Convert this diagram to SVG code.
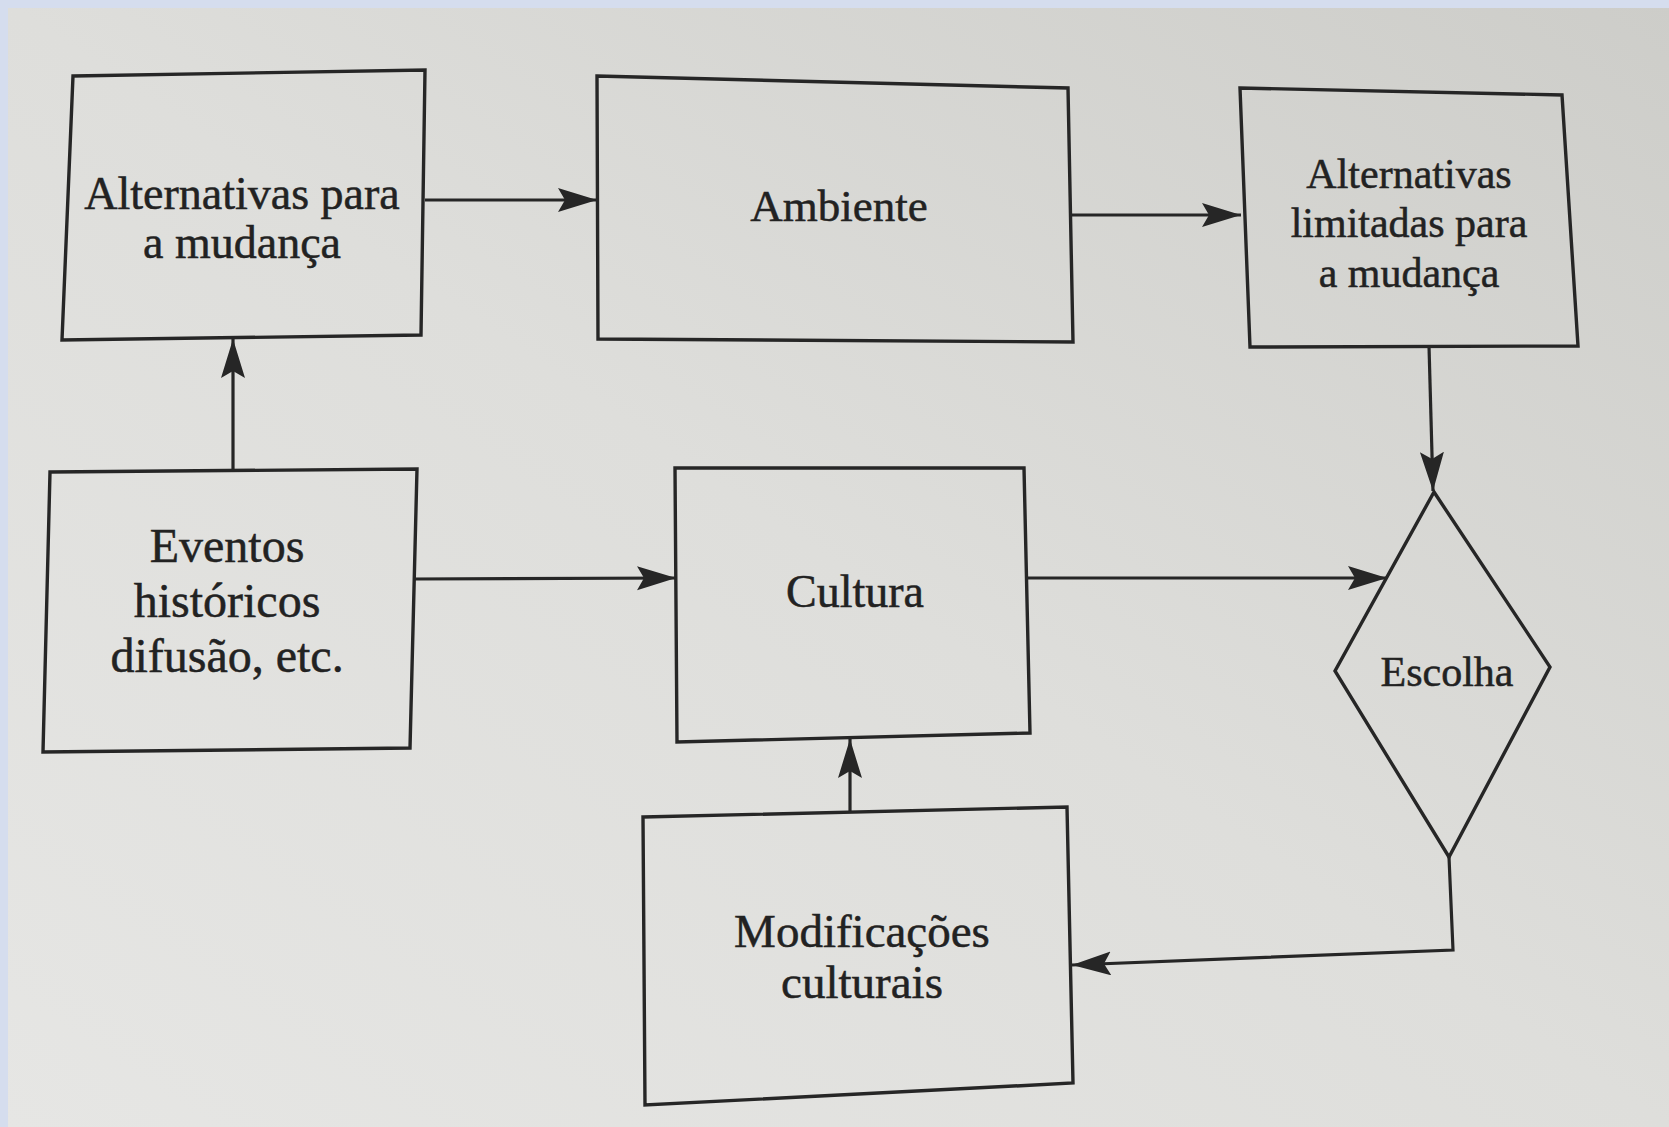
<svg xmlns="http://www.w3.org/2000/svg" width="1669" height="1127" viewBox="0 0 1669 1127">
  <defs>
    <linearGradient id="paper" x1="1" y1="0" x2="0" y2="1">
      <stop offset="0" stop-color="#cdcdc9"/>
      <stop offset="0.5" stop-color="#dededb"/>
      <stop offset="1" stop-color="#e6e6e4"/>
    </linearGradient>
    <marker id="arrow" markerUnits="userSpaceOnUse" markerWidth="42" markerHeight="26" refX="39" refY="12" orient="auto">
      <path d="M0,0 L39,12 L0,24 L7,12 Z" fill="#262626"/>
    </marker>
  </defs>
  <style>
    .box { fill: none; stroke: #262626; stroke-width: 3.4; stroke-linejoin: miter; }
    .conn { fill: none; stroke: #262626; stroke-width: 3.2; }
    .lbl { font-family: "Liberation Serif", "Times New Roman", serif; fill: #222222; stroke: #222222; stroke-width: 0.5; text-anchor: middle; }
  </style>
  <rect x="0" y="0" width="1669" height="1127" fill="url(#paper)"/>
  <rect x="0" y="0" width="1669" height="8" fill="#d5ddee"/>
  <rect x="0" y="0" width="8" height="1127" fill="#d5ddee"/>

  <g id="connectors">
    <line class="conn" x1="425" y1="200" x2="597" y2="200" marker-end="url(#arrow)"/>
    <line class="conn" x1="1071" y1="215" x2="1241" y2="215" marker-end="url(#arrow)"/>
    <line class="conn" x1="1429" y1="346" x2="1433" y2="491" marker-end="url(#arrow)"/>
    <line class="conn" x1="233" y1="470" x2="233" y2="339" marker-end="url(#arrow)"/>
    <line class="conn" x1="414" y1="579" x2="676" y2="578" marker-end="url(#arrow)"/>
    <line class="conn" x1="1026" y1="578" x2="1387" y2="578" marker-end="url(#arrow)"/>
    <line class="conn" x1="850" y1="811" x2="850" y2="739" marker-end="url(#arrow)"/>
    <polyline class="conn" points="1449,857 1453,950 1072,965" marker-end="url(#arrow)"/>
  </g>

  <g id="alternativas">
    <polygon class="box" points="73,76 425,70 421,335 62,340"/>
    <text class="lbl" font-size="46" x="242" y="209">Alternativas para</text>
    <text class="lbl" font-size="46" x="242" y="258">a mudança</text>
  </g>
  <g id="ambiente">
    <polygon class="box" points="597,76 1068,88 1073,342 598,339"/>
    <text class="lbl" font-size="45" x="839" y="221">Ambiente</text>
  </g>
  <g id="alternativas-limitadas">
    <polygon class="box" points="1240,88 1562,95 1578,346 1250,347"/>
    <text class="lbl" font-size="42" x="1409" y="188">Alternativas</text>
    <text class="lbl" font-size="42" x="1409" y="237">limitadas para</text>
    <text class="lbl" font-size="42" x="1409" y="287">a mudança</text>
  </g>
  <g id="eventos">
    <polygon class="box" points="50,472 417,469 410,748 43,752"/>
    <text class="lbl" font-size="48" x="227" y="562">Eventos</text>
    <text class="lbl" font-size="48" x="227" y="617">históricos</text>
    <text class="lbl" font-size="48" x="227" y="672">difusão, etc.</text>
  </g>
  <g id="cultura">
    <polygon class="box" points="675,468 1024,468 1030,733 677,742"/>
    <text class="lbl" font-size="46" x="855" y="607">Cultura</text>
  </g>
  <g id="modificacoes">
    <polygon class="box" points="643,817 1067,807 1073,1083 645,1105"/>
    <text class="lbl" font-size="47" x="862" y="947">Modificações</text>
    <text class="lbl" font-size="47" x="862" y="998">culturais</text>
  </g>
  <g id="escolha">
    <polygon class="box" points="1434,492 1550,667 1449,857 1335,671"/>
    <text class="lbl" font-size="42" x="1447" y="686">Escolha</text>
  </g>
</svg>
